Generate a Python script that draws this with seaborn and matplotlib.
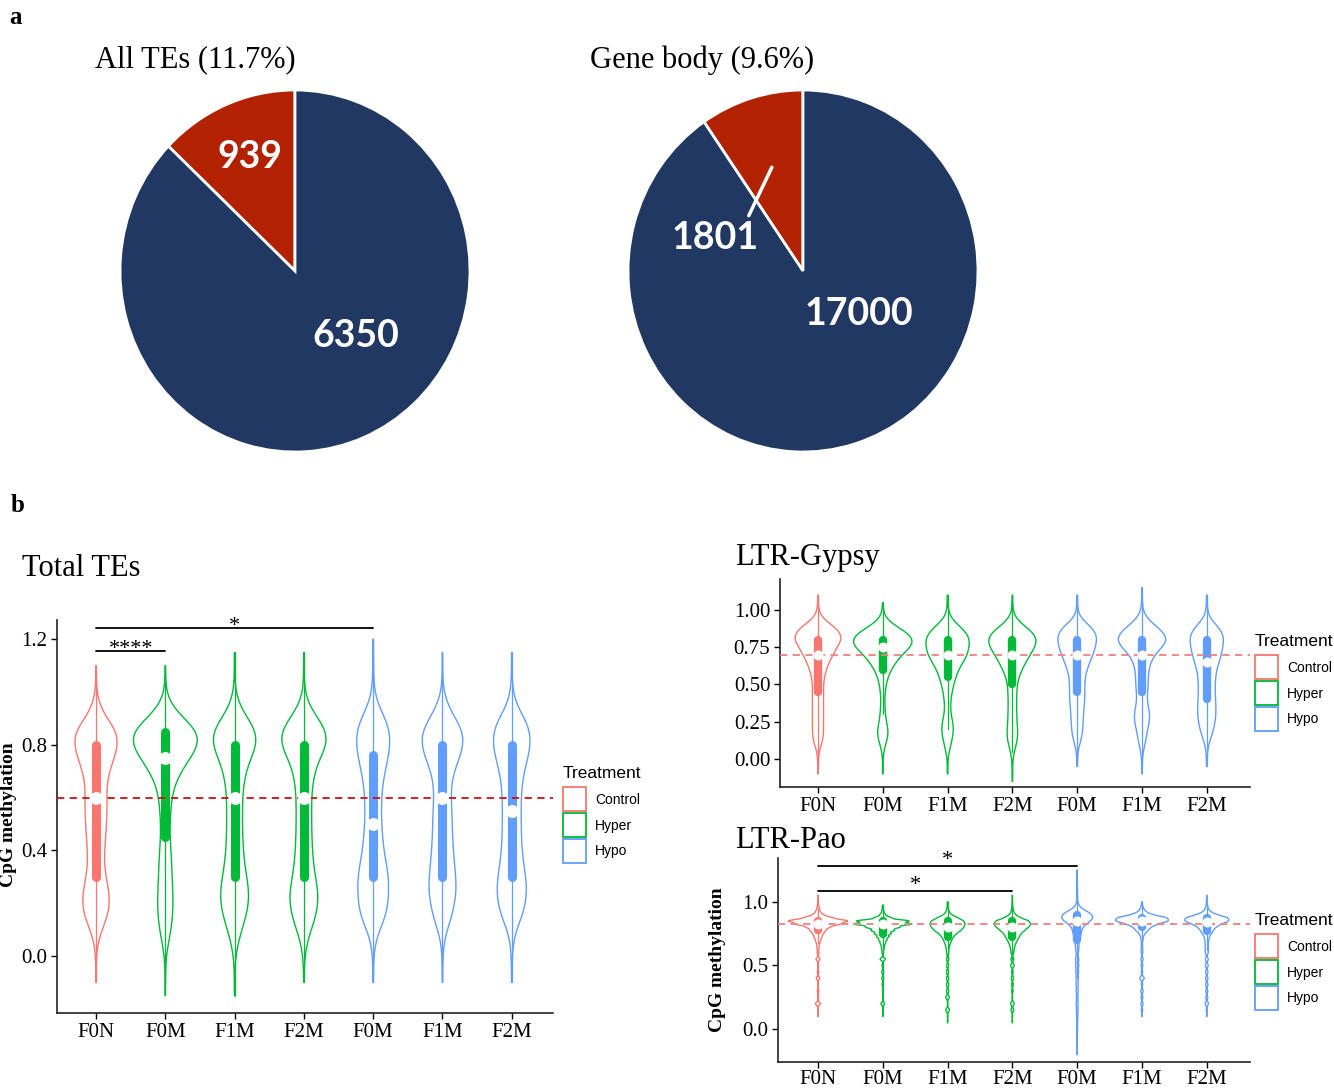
import numpy as np
import pandas as pd
import matplotlib
matplotlib.use("Agg")
import matplotlib.pyplot as plt
from matplotlib.patches import Patch, Rectangle
from matplotlib.legend_handler import HandlerPatch
import seaborn as sns

sns.set_theme(style="ticks")
SERIF = ["Liberation Serif", "DejaVu Serif"]
SANS = ["Liberation Sans", "DejaVu Sans"]
plt.rcParams["font.family"] = SERIF
plt.rcParams["text.color"] = "black"
plt.rcParams["axes.labelcolor"] = "black"

# ---------------- panel a: pie charts ----------------
pie_titles = ["All TEs (11.7%)", "Gene body (9.6%)"]
te_counts = [939, 6350]            # differentially methylated, remaining
gene_body_counts = [1801, 17000]
pie_colors = ["#B22200", "#213862"]

# ---------------- panel b: violin data ----------------
group_keys = ["F0N", "F0M_hyper", "F1M_hyper", "F2M_hyper", "F0M_hypo", "F1M_hypo", "F2M_hypo"]
group_labels = ["F0N", "F0M", "F1M", "F2M", "F0M", "F1M", "F2M"]
group_treatment = ["Control", "Hyper", "Hyper", "Hyper", "Hypo", "Hypo", "Hypo"]
treatment_levels = ["Control", "Hyper", "Hypo"]
treatment_colors = ["#F8766D", "#00BA38", "#619CFF"]

# Total TEs: number of loci at each methylation level
total_levels = [-0.15, -0.10, -0.05, 0.00, 0.05, 0.10, 0.15, 0.20, 0.25, 0.30, 0.35, 0.40, 0.45, 0.50,
                0.55, 0.60, 0.65, 0.70, 0.75, 0.80, 0.85, 0.90, 0.95, 1.00, 1.05, 1.10, 1.15, 1.20]
total_f0n = [0, 1, 1, 1, 6, 22, 45, 55, 48, 38, 30, 33, 36, 40, 42, 42, 40, 50, 70, 85, 85, 40, 12, 2, 1, 1, 0, 0]
total_f0m_hyper = [1, 1, 1, 3, 12, 22, 28, 30, 28, 26, 24, 22, 17, 18, 20, 25, 35, 60, 95, 130, 130, 70, 20, 3, 1, 1, 0, 0]
total_f1m_hyper = [1, 1, 1, 3, 12, 25, 40, 50, 50, 42, 34, 30, 28, 27, 27, 28, 30, 40, 55, 80, 80, 45, 15, 3, 1, 1, 1, 0]
total_f2m_hyper = [0, 1, 1, 3, 10, 26, 42, 52, 50, 40, 33, 30, 28, 27, 27, 27, 30, 38, 55, 85, 85, 50, 15, 3, 1, 1, 1, 0]
total_f0m_hypo = [0, 1, 1, 2, 6, 20, 42, 48, 50, 50, 42, 34, 30, 27, 26, 27, 30, 38, 48, 55, 55, 40, 15, 4, 2, 1, 1, 1]
total_f1m_hypo = [0, 1, 1, 2, 4, 16, 34, 42, 50, 46, 42, 38, 35, 34, 33, 30, 30, 40, 60, 75, 75, 45, 18, 4, 1, 1, 1, 0]
total_f2m_hypo = [0, 1, 1, 2, 4, 15, 36, 48, 52, 48, 40, 35, 33, 32, 32, 32, 35, 42, 55, 65, 65, 45, 15, 4, 1, 1, 1, 0]

# LTR-Gypsy
gypsy_levels = [-0.15, -0.10, -0.05, 0.00, 0.05, 0.10, 0.15, 0.20, 0.25, 0.30, 0.35, 0.40, 0.45, 0.50,
                0.55, 0.60, 0.65, 0.70, 0.75, 0.80, 0.85, 0.90, 0.95, 1.00, 1.05, 1.10, 1.15]
gypsy_f0n = [0, 1, 1, 1, 3, 12, 18, 18, 18, 18, 18, 18, 18, 18, 20, 28, 35, 50, 60, 80, 75, 45, 10, 2, 1, 1, 0]
gypsy_f0m_hyper = [0, 1, 1, 1, 4, 12, 22, 22, 15, 11, 9, 8, 10, 14, 22, 35, 55, 80, 115, 130, 100, 45, 10, 2, 1, 0, 0]
gypsy_f1m_hyper = [0, 1, 1, 1, 5, 10, 15, 18, 15, 10, 8, 10, 13, 18, 24, 32, 45, 58, 62, 65, 55, 30, 8, 2, 1, 1, 0]
gypsy_f2m_hyper = [1, 1, 1, 2, 6, 14, 18, 18, 15, 15, 14, 14, 15, 16, 22, 32, 45, 60, 75, 85, 70, 35, 8, 2, 1, 1, 0]
gypsy_f0m_hypo = [0, 0, 1, 1, 2, 8, 14, 17, 18, 19, 21, 23, 23, 23, 24, 30, 38, 48, 55, 60, 58, 35, 8, 2, 1, 1, 0]
gypsy_f1m_hypo = [0, 1, 1, 1, 4, 10, 14, 18, 24, 26, 20, 16, 18, 20, 20, 22, 28, 40, 65, 85, 70, 40, 12, 3, 1, 1, 1]
gypsy_f2m_hypo = [0, 0, 1, 1, 2, 5, 12, 18, 22, 24, 24, 23, 22, 22, 23, 26, 32, 38, 42, 45, 42, 25, 6, 2, 1, 1, 0]

# LTR-Pao (finer steps around the main peak)
pao_levels = [-0.20, -0.15, -0.10, -0.05, 0.00, 0.05, 0.10, 0.15, 0.20, 0.25, 0.30, 0.35, 0.40, 0.45, 0.50, 0.55,
              0.600, 0.625, 0.650, 0.675, 0.700, 0.725, 0.750, 0.775, 0.800, 0.825, 0.850, 0.875, 0.900,
              0.925, 0.950, 0.975, 1.000, 1.05, 1.10, 1.15, 1.20, 1.25, 1.30]
pao_f0n = [0, 0, 0, 0, 0, 0, 1, 0, 10, 0, 3, 0, 7, 3, 0, 8,
           3, 3, 4, 6, 10, 14, 20, 28, 40, 80, 110, 50, 18, 8, 4, 2, 1, 1, 0, 0, 0, 0, 0]
pao_f0m_hyper = [0, 0, 0, 0, 0, 0, 1, 0, 7, 0, 0, 3, 4, 4, 3, 10,
                 3, 4, 6, 10, 15, 22, 30, 42, 60, 105, 95, 30, 10, 4, 2, 1, 0, 0, 0, 0, 0, 0, 0]
pao_f1m_hyper = [0, 0, 0, 0, 0, 1, 0, 8, 0, 8, 5, 5, 5, 5, 5, 5,
                 4, 4, 6, 10, 14, 20, 30, 45, 55, 60, 55, 35, 12, 5, 2, 1, 1, 0, 0, 0, 0, 0, 0]
pao_f2m_hyper = [0, 0, 0, 0, 0, 1, 0, 6, 8, 0, 3, 4, 5, 3, 8, 6,
                 5, 6, 8, 12, 18, 24, 30, 42, 55, 65, 58, 28, 10, 4, 2, 1, 1, 1, 0, 0, 0, 0, 0]
pao_f0m_hypo = [1, 0, 1, 1, 2, 2, 3, 4, 5, 4, 5, 5, 6, 7, 8, 8,
                4, 4, 5, 5, 6, 9, 11, 13, 15, 24, 38, 45, 42, 28, 10, 4, 2, 2, 1, 1, 0, 1, 0]
pao_f1m_hypo = [0, 0, 0, 0, 0, 0, 1, 3, 5, 4, 5, 3, 10, 3, 4, 5,
                3, 3, 2, 2, 3, 5, 10, 22, 30, 55, 95, 90, 35, 12, 5, 2, 1, 0, 0, 0, 0, 0, 0]
pao_f2m_hypo = [0, 0, 0, 0, 0, 0, 1, 2, 7, 4, 4, 5, 5, 5, 6, 6,
                5, 5, 5, 5, 6, 8, 14, 20, 28, 45, 70, 68, 30, 10, 4, 2, 1, 1, 0, 0, 0, 0, 0]

# significance brackets: (from group index, to group index, height, label)
total_brackets = [(0, 1, 1.155, "****"), (0, 4, 1.242, "*")]
pao_brackets = [(0, 3, 1.085, "*"), (0, 4, 1.28, "*")]

W, H = 1334, 1092
fig = plt.figure(figsize=(W / 100, H / 100), dpi=100)


def px_axes(left, top, right, bottom):
    return fig.add_axes([left / W, 1 - bottom / H, (right - left) / W, (bottom - top) / H])


def expand(levels, count_lists):
    parts = []
    for key, trt, counts in zip(group_keys, group_treatment, count_lists):
        vals = np.repeat(np.asarray(levels, float), counts)
        parts.append(pd.DataFrame({"group": key, "treatment": trt, "value": vals}))
    return pd.concat(parts, ignore_index=True)


palette = dict(zip(treatment_levels, treatment_colors))


def violin_panel(ax, frame, bw, width, box_w, dot_size, xlim, ylim, yticks, yticklabels,
                 ref_color, brackets=(), star_drop=0.02, label_pad=3):
    sns.violinplot(data=frame, x="group", y="value", hue="treatment",
                   order=group_keys, hue_order=treatment_levels, palette=palette,
                   fill=False, dodge=False, inner="box",
                   inner_kws=dict(box_width=box_w, whis_width=0.9, marker="o"),
                   cut=0, bw_method=bw, width=width, density_norm="area", common_norm=True,
                   linewidth=1.0, saturation=1, gridsize=500, legend=False, ax=ax)
    for line in ax.lines:
        if line.get_marker() == "o":
            line.set_markersize(dot_size)
            line.set_zorder(4)
    ctrl_median = frame.loc[frame["treatment"] == "Control", "value"].median()
    ax.axhline(ctrl_median, color=ref_color, lw=1.3, ls=(0, (4, 3)), zorder=3)
    for i0, i1, yb, label in brackets:
        ax.plot([i0, i1], [yb, yb], color="black", lw=1.3, clip_on=False)
        ax.text((i0 + i1) / 2, yb - star_drop, label, ha="center", va="bottom",
                fontsize=16, clip_on=False)
    ax.set_xlim(*xlim)
    ax.set_ylim(*ylim)
    ax.set_xticks(range(len(group_keys)))
    ax.set_xticklabels(group_labels)
    ax.set_yticks(yticks)
    ax.set_yticklabels(yticklabels)
    ax.set_xlabel("")
    ax.set_ylabel("")
    ax.tick_params(axis="both", labelsize=15, length=4, width=1, color="black",
                   labelcolor="black", pad=3)
    ax.tick_params(axis="x", pad=label_pad)
    for side in ("top", "right"):
        ax.spines[side].set_visible(False)
    for side in ("left", "bottom"):
        ax.spines[side].set_color("#222222")
        ax.spines[side].set_linewidth(1.2)


KEY_W, KEY_H = 16.5, 17.3   # legend key box size in points


def key_box(legend, orig_handle, xdescent, ydescent, width, height, fontsize):
    cx = -xdescent + width / 2
    cy = -ydescent + height / 2
    return Rectangle((cx - KEY_W / 2, cy - KEY_H / 2), KEY_W, KEY_H)


def add_legend(x_px, top_px):
    handles = [Patch(facecolor="white", edgecolor=c, linewidth=1.3) for c in treatment_colors]
    fig.legend(handles, treatment_levels, title="Treatment", loc="upper left",
               bbox_to_anchor=(x_px / W, 1 - top_px / H), frameon=False,
               prop={"family": SANS, "size": 10},
               title_fontproperties={"family": SANS, "size": 12.5},
               handler_map={Patch: HandlerPatch(patch_func=key_box)},
               handlelength=1.65, handleheight=0.7, labelspacing=0.85,
               handletextpad=0.65, borderpad=0, borderaxespad=0, alignment="left")


# ---- pies ----
pie_specs = [((120, 90, 470, 452), te_counts, pie_titles[0], 195),
             ((628, 90, 978, 452), gene_body_counts, pie_titles[1], 702)]
pie_axes = []
for box, counts, title, tx in pie_specs:
    pax = px_axes(*box)
    pax.pie(counts, colors=pie_colors, startangle=90, counterclock=True,
            wedgeprops=dict(edgecolor="white", linewidth=2))
    pax.set_aspect("auto")
    pax.set_xlim(-1, 1)
    pax.set_ylim(-1, 1)
    pax.axis("off")
    fig.text(tx / W, 1 - 60 / H, title, ha="center", va="center", fontsize=22)
    pie_axes.append(pax)

num_font = dict(family=["Lato", "DejaVu Sans"], weight="bold", color="white", fontsize=27,
                ha="center", va="center")
pie_axes[0].text(-0.26, 0.63, f"{te_counts[0]}", **num_font)
pie_axes[0].text(0.345, -0.36, f"{te_counts[1]}", **num_font)
frac = gene_body_counts[0] / sum(gene_body_counts)
mid = np.deg2rad(90 + 180 * frac)
pie_axes[1].annotate(f"{gene_body_counts[0]}", xy=(0.6 * np.cos(mid), 0.6 * np.sin(mid)),
                     xytext=(-0.5, 0.18), textcoords="data",
                     arrowprops=dict(arrowstyle="-", color="white", lw=2.5,
                                     relpos=(0.85, 1.0), shrinkA=2, shrinkB=0),
                     **num_font)
pie_axes[1].text(0.32, -0.24, f"{gene_body_counts[1]}", **num_font)

# ---- violins ----
ax_total = px_axes(57, 620, 553, 1013)
violin_panel(ax_total, expand(total_levels, [total_f0n, total_f0m_hyper, total_f1m_hyper,
                                             total_f2m_hyper, total_f0m_hypo, total_f1m_hypo,
                                             total_f2m_hypo]),
             bw=0.16, width=0.92, box_w=6.5, dot_size=8, xlim=(-0.563, 6.595),
             ylim=(-0.216, 1.273),
             yticks=[0.0, 0.4, 0.8, 1.2], yticklabels=["0.0", "0.4", "0.8", "1.2"],
             ref_color="#CC1111", brackets=total_brackets, star_drop=0.03)

ax_gypsy = px_axes(780, 579, 1250, 787)
violin_panel(ax_gypsy, expand(gypsy_levels, [gypsy_f0n, gypsy_f0m_hyper, gypsy_f1m_hyper,
                                             gypsy_f2m_hyper, gypsy_f0m_hypo, gypsy_f1m_hypo,
                                             gypsy_f2m_hypo]),
             bw=0.16, width=0.9, box_w=6.0, dot_size=6, xlim=(-0.586, 6.667),
             ylim=(-0.188, 1.208),
             yticks=[0.0, 0.25, 0.5, 0.75, 1.0],
             yticklabels=["0.00", "0.25", "0.50", "0.75", "1.00"],
             ref_color="#F08080")

ax_pao = px_axes(778, 858, 1250, 1062)
violin_panel(ax_pao, expand(pao_levels, [pao_f0n, pao_f0m_hyper, pao_f1m_hyper, pao_f2m_hyper,
                                         pao_f0m_hypo, pao_f1m_hypo, pao_f2m_hypo]),
             bw=0.08, width=0.92, box_w=6.0, dot_size=6, xlim=(-0.617, 6.667),
             ylim=(-0.258, 1.344),
             yticks=[0.0, 0.5, 1.0], yticklabels=["0.0", "0.5", "1.0"],
             ref_color="#F08080", brackets=pao_brackets, star_drop=0.03, label_pad=1.5)

add_legend(563, 766)
add_legend(1255, 634)
add_legend(1255, 913)

# ---- titles and labels ----
fig.text(16 / W, 1 - 18 / H, "a", fontsize=18, weight="bold", ha="center", va="center")
fig.text(18 / W, 1 - 505 / H, "b", fontsize=18, weight="bold", ha="center", va="center")
fig.text(22 / W, 1 - 568 / H, "Total TEs", fontsize=22, ha="left", va="center")
fig.text(735 / W, 1 - 557 / H, "LTR-Gypsy", fontsize=22, ha="left", va="center")
fig.text(735 / W, 1 - 840 / H, "LTR-Pao", fontsize=22, ha="left", va="center")
ylabel_kw = dict(rotation=90, fontsize=14, weight="bold", ha="center", va="center")
fig.text(9 / W, 1 - 815 / H, "CpG methylation", **ylabel_kw)
fig.text(717 / W, 1 - 960 / H, "CpG methylation", **ylabel_kw)

fig.savefig("out.png", dpi=100, facecolor="white")
